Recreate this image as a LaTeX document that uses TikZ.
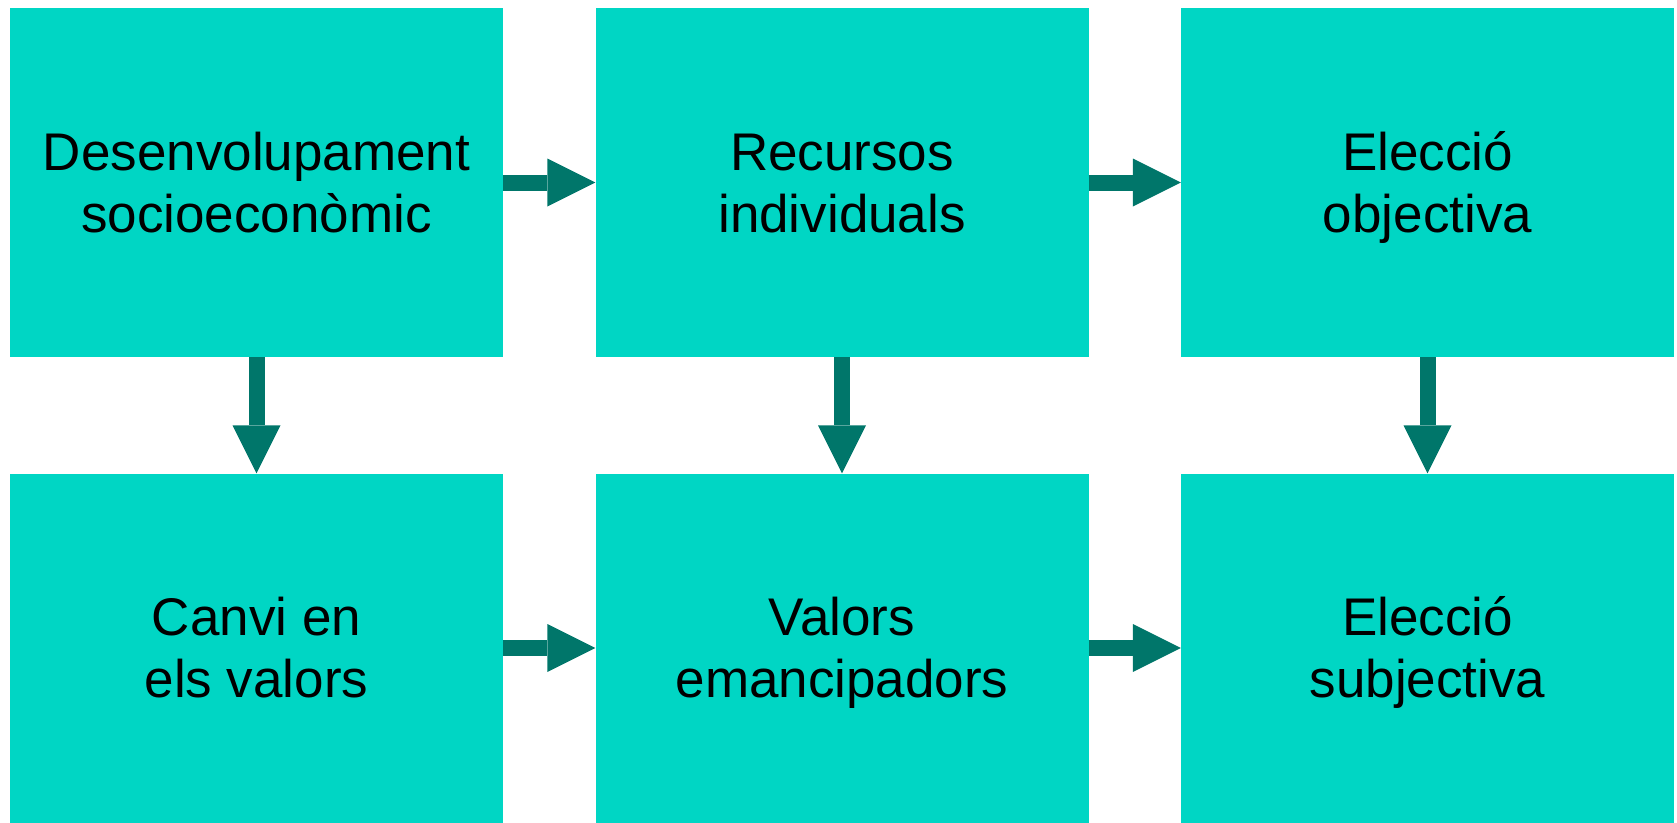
\documentclass[tikz,border=0pt]{standalone}
\usepackage{fontspec}
\setmainfont{Liberation Sans}
\usepackage{tikz}
\usetikzlibrary{arrows.meta}
\definecolor{boxteal}{RGB}{0,214,196}
\definecolor{arrowteal}{RGB}{0,118,106}

\begin{document}
\begin{tikzpicture}[x=1pt, y=-1pt,
    stage/.style={fill=boxteal, minimum width=493pt, minimum height=349pt, inner sep=0pt,
        align=center, text height=100pt, text depth=1pt, font=\fontsize{53}{62}\selectfont},
    flow/.style={draw=arrowteal, line width=16pt,
        -{Triangle[length=48pt, width=48pt, line width=0pt, fill=arrowteal]}}]
    \useasboundingbox (0,0) rectangle (1677,822);

    % Top row
    \node[stage] (desenv) at (256.5,182.5) {Desenvolupament\\socioeconòmic};
    \node[stage] (recursos) at (842,182.5) {Recursos\\individuals};
    \node[stage] (eobj) at (1427.5,182.5) {Elecció\\objectiva};

    % Bottom row
    \node[stage] (canvi) at (256.5,648) {Canvi en\\els valors};
    \node[stage] (valors) at (842,648) {Valors\\emancipadors};
    \node[stage] (esubj) at (1427.5,648) {Elecció\\subjectiva};

    % Arrows
    \draw[flow] (desenv) -- (recursos);
    \draw[flow] (recursos) -- (eobj);
    \draw[flow] (canvi) -- (valors);
    \draw[flow] (valors) -- (esubj);
    \draw[flow] (desenv) -- (canvi);
    \draw[flow] (recursos) -- (valors);
    \draw[flow] (eobj) -- (esubj);
\end{tikzpicture}
\end{document}
